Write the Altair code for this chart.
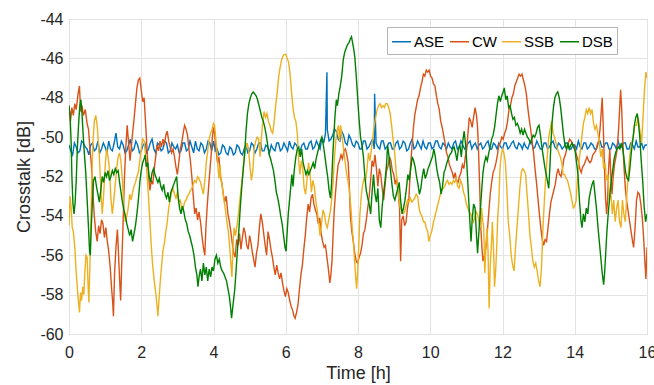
import altair as alt
import pandas as pd

# ---------------- data ----------------
series_names = ["ASE", "CW", "SSB", "DSB"]
series_colors = ["#0072BD", "#D95319", "#EDB120", "#008000"]
x_ticks = [0, 2, 4, 6, 8, 10, 12, 14, 16]
y_ticks = [-60, -58, -56, -54, -52, -50, -48, -46, -44]

# ASE read every 0.1 h (t = 0.0, 0.1, ... 16.0)
ase_values = [
    -50.4, -50.9, -50.5, -50.7, -50.3, -50.6, -50.4, -50.7, -50.2, -50.6,
    -50.5, -50.2, -50.7, -49.8, -50.6, -50.4, -50.7, -50.1, -50.6, -50.4,
    -50.7, -50.3, -50.6, -50.1, -50.8, -50.4, -50.6, -50.3, -50.7, -50.5,
    -50.4, -50.7, -50.3, -50.6, -50.5, -50.2, -50.7, -50.4, -50.6, -50.3,
    -50.2, -50.6, -50.8, -50.5, -50.9, -50.6, -50.8, -50.5, -50.9, -50.4,
    -50.7, -50.4, -50.6, -50.3, -50.7, -50.5, -50.4, -50.7, -50.3, -50.6,
    -50.5, -50.2, -50.6, -50.4, -50.7, -50.3, -50.6, -50.2, -50.5, -50.4,
    -50.0, -49.8, -50.2, -49.9, -49.7, -50.2, -49.9, -50.4, -50.1, -50.5,
    -50.3, -50.6, -50.2, -50.5, -50.1, -50.3, -50.6, -50.2, -50.5, -50.3,
    -50.6, -50.2, -50.5, -50.3, -50.6, -50.1, -50.5, -50.4, -50.2, -50.6,
    -50.3, -50.5, -50.2, -50.6, -50.4, -50.3, -50.6, -50.2, -50.5, -50.4,
    -50.5, -50.2, -50.4, -50.6, -50.3, -50.5, -50.2, -50.6, -50.4, -50.3,
    -50.6, -50.3, -50.5, -50.2, -50.6, -50.4, -50.3, -50.6, -50.2, -50.5,
    -50.4, -50.6, -50.3, -50.5, -50.2, -50.6, -50.4, -50.5, -50.3, -50.6,
    -50.4, -50.2, -50.6, -50.3, -50.5, -50.4, -50.6, -50.2, -50.5, -50.3,
    -50.6, -50.4, -50.2, -50.5, -50.3, -50.6, -50.4, -50.2, -50.5, -50.6,
    -50.4,
]
# ASE read at the half steps (t = 0.05, 0.15, ... 15.95)
ase_mid_values = [
    -50.7, -50.3, -50.8, -50.2, -50.5, -50.9, -50.3, -50.6, -50.8, -50.3,
    -50.8, -50.6, -50.3, -50.5, -50.2, -50.8, -50.4, -50.7, -50.2, -50.8,
    -50.4, -50.8, -50.3, -50.6, -50.3, -50.7, -50.2, -50.8, -50.3, -50.6,
    -50.8, -50.3, -50.7, -50.2, -50.8, -50.6, -50.3, -50.8, -50.2, -50.7,
    -50.7, -50.9, -50.4, -50.8, -50.5, -50.9, -50.4, -50.8, -50.6, -50.8,
    -50.3, -50.8, -50.3, -50.7, -50.4, -50.8, -50.6, -50.3, -50.7, -50.3,
    -50.7, -50.5, -50.3, -50.7, -50.4, -50.6, -50.3, -50.6, -50.2, -50.6,
    -50.3, -49.6, -50.1, -49.6, -50.1, -49.7, -50.3, -49.9, -50.4, -50.2,
    -50.6, -50.2, -50.6, -50.3, -50.6, -50.5, -50.2, -50.6, -50.3, -50.6,
    -50.3, -50.6, -50.2, -50.7, -50.3, -50.6, -50.2, -50.6, -50.5, -50.3,
    -50.6, -50.2, -50.5, -50.3, -50.6, -50.5, -50.3, -50.6, -50.2, -50.6,
    -50.3, -50.6, -50.3, -50.4, -50.6, -50.3, -50.6, -50.3, -50.6, -50.5,
    -50.3, -50.6, -50.3, -50.5, -50.3, -50.6, -50.5, -50.3, -50.6, -50.2,
    -50.6, -50.3, -50.6, -50.3, -50.5, -50.3, -50.6, -50.3, -50.6, -50.4,
    -50.6, -50.5, -50.3, -50.6, -50.3, -50.6, -50.3, -50.5, -50.3, -50.6,
    -50.3, -50.6, -50.5, -50.3, -50.6, -50.3, -50.6, -50.5, -50.3, -50.4,
]
ase_spike_t = [7.14, 8.46]
ase_spike_v = [-46.7, -47.8]

cw = [
    (0.00, -48.4), (0.04, -49.2), (0.08, -48.5), (0.12, -48.9), (0.16, -48.3), (0.20, -48.6), (0.25, -47.8),
    (0.29, -47.4), (0.32, -48.7), (0.36, -48.4), (0.40, -48.9), (0.45, -48.6), (0.50, -49.3), (0.54, -49.6),
    (0.58, -50.6), (0.62, -51.4), (0.66, -52.8), (0.70, -54.0), (0.74, -54.8), (0.78, -55.3), (0.82, -54.5),
    (0.86, -54.9), (0.90, -54.2), (0.94, -54.4), (0.98, -55.1), (1.02, -54.6), (1.06, -55.3), (1.10, -55.8),
    (1.14, -56.6), (1.18, -57.7), (1.21, -58.4), (1.23, -59.1), (1.26, -57.0), (1.30, -55.6), (1.34, -54.7),
    (1.37, -55.9), (1.40, -57.2), (1.43, -58.3), (1.46, -56.4), (1.49, -54.8), (1.53, -52.3), (1.57, -50.6),
    (1.61, -49.4), (1.65, -50.3), (1.69, -51.2), (1.72, -50.6), (1.76, -49.8), (1.80, -49.1), (1.84, -48.3),
    (1.88, -47.5), (1.92, -47.1), (1.96, -47.0), (2.00, -47.6), (2.04, -48.2), (2.08, -48.0), (2.12, -49.3),
    (2.16, -50.6), (2.20, -51.9), (2.24, -52.7), (2.28, -52.2), (2.32, -52.4), (2.36, -51.6), (2.40, -51.0),
    (2.44, -50.4), (2.48, -50.7), (2.52, -50.2), (2.56, -50.5), (2.60, -50.1), (2.64, -50.4), (2.68, -49.9),
    (2.72, -49.7), (2.76, -50.2), (2.80, -50.5), (2.84, -50.8), (2.88, -50.6), (2.92, -51.0), (2.96, -51.5),
    (3.00, -51.9), (3.04, -51.3), (3.08, -50.6), (3.12, -50.3), (3.16, -49.8), (3.20, -49.4), (3.24, -49.6),
    (3.28, -49.9), (3.32, -50.6), (3.36, -51.2), (3.40, -52.0), (3.44, -53.0), (3.48, -53.9), (3.52, -53.6),
    (3.56, -54.2), (3.60, -53.8), (3.64, -54.3), (3.68, -55.0), (3.72, -55.6), (3.76, -56.0), (3.79, -54.6),
    (3.83, -53.4), (3.87, -52.4), (3.90, -51.7), (3.94, -50.8), (3.97, -50.0), (4.00, -49.5), (4.03, -49.8),
    (4.07, -50.6), (4.11, -51.3), (4.15, -51.0), (4.19, -52.0), (4.23, -52.3), (4.27, -52.9), (4.31, -53.3),
    (4.35, -53.0), (4.40, -53.9), (4.44, -54.3), (4.48, -54.8), (4.52, -55.4), (4.56, -55.9), (4.60, -56.1),
    (4.64, -55.2), (4.68, -55.5), (4.72, -54.9), (4.76, -55.7), (4.80, -55.1), (4.84, -54.6), (4.88, -54.9),
    (4.92, -55.5), (4.96, -55.7), (5.00, -55.0), (5.04, -55.4), (5.08, -55.9), (5.12, -56.3), (5.15, -56.6),
    (5.19, -55.9), (5.23, -55.5), (5.27, -54.6), (5.31, -53.9), (5.35, -54.3), (5.39, -54.9), (5.43, -55.5),
    (5.47, -56.0), (5.51, -54.8), (5.55, -55.2), (5.59, -55.7), (5.63, -56.1), (5.67, -56.6), (5.71, -57.0),
    (5.75, -56.5), (5.79, -56.9), (5.83, -57.2), (5.87, -56.9), (5.91, -57.4), (5.95, -57.8), (5.99, -58.1),
    (6.03, -57.7), (6.07, -57.9), (6.11, -58.3), (6.15, -58.6), (6.19, -58.8), (6.23, -59.1), (6.26, -59.2),
    (6.30, -58.9), (6.34, -58.5), (6.38, -57.7), (6.42, -57.0), (6.46, -56.5), (6.50, -55.7), (6.54, -55.0),
    (6.58, -54.1), (6.62, -53.4), (6.66, -53.8), (6.70, -53.1), (6.74, -52.9), (6.78, -53.4), (6.82, -53.7),
    (6.86, -53.9), (6.90, -54.4), (6.94, -54.1), (6.98, -54.9), (7.02, -55.3), (7.06, -55.6), (7.10, -55.5),
    (7.14, -56.1), (7.18, -56.7), (7.22, -57.4), (7.25, -57.0), (7.28, -56.3), (7.31, -55.0), (7.34, -53.8),
    (7.37, -53.0), (7.41, -52.1), (7.45, -51.4), (7.49, -51.2), (7.53, -50.9), (7.57, -51.1), (7.61, -50.7),
    (7.65, -50.6), (7.69, -50.9), (7.73, -51.3), (7.76, -52.5), (7.79, -54.0), (7.83, -54.8), (7.87, -55.3),
    (7.91, -55.9), (7.95, -56.3), (7.99, -56.4), (8.03, -56.1), (8.07, -55.9), (8.11, -55.5), (8.15, -54.9),
    (8.19, -54.7), (8.23, -54.2), (8.27, -53.6), (8.31, -53.0), (8.35, -52.2), (8.39, -51.2), (8.43, -51.5),
    (8.47, -50.9), (8.51, -51.6), (8.55, -52.5), (8.59, -51.6), (8.63, -51.9), (8.67, -52.6), (8.71, -53.2),
    (8.75, -52.4), (8.79, -51.7), (8.83, -51.5), (8.87, -51.0), (8.91, -51.2), (8.95, -51.7), (8.99, -51.9),
    (9.03, -52.4), (9.07, -52.1), (9.11, -52.8), (9.15, -53.6), (9.18, -56.3), (9.21, -54.2), (9.25, -54.0),
    (9.29, -54.5), (9.33, -54.3), (9.37, -53.6), (9.41, -53.1), (9.45, -51.6), (9.49, -50.6), (9.53, -49.6),
    (9.57, -48.9), (9.61, -48.5), (9.65, -48.1), (9.69, -47.9), (9.73, -47.5), (9.77, -47.2), (9.81, -46.8),
    (9.85, -46.9), (9.89, -46.6), (9.93, -46.7), (9.97, -46.6), (10.01, -46.9), (10.05, -47.0), (10.09, -47.3),
    (10.13, -47.4), (10.17, -47.9), (10.21, -48.3), (10.25, -48.6), (10.29, -49.2), (10.33, -49.5), (10.37, -49.9),
    (10.41, -50.3), (10.45, -50.8), (10.49, -51.0), (10.53, -51.4), (10.57, -51.6), (10.61, -51.8), (10.65, -52.1),
    (10.69, -51.8), (10.73, -52.2), (10.77, -52.3), (10.81, -52.0), (10.85, -51.8), (10.89, -51.4), (10.93, -51.6),
    (10.97, -51.0), (11.01, -50.6), (11.04, -49.9), (11.08, -49.0), (11.12, -49.2), (11.16, -49.5), (11.20, -49.0),
    (11.24, -48.5), (11.28, -48.9), (11.31, -49.5), (11.34, -50.9), (11.37, -52.6), (11.40, -54.6), (11.43, -55.6),
    (11.46, -56.3), (11.50, -56.0), (11.54, -55.6), (11.58, -54.8), (11.62, -53.8), (11.66, -52.9), (11.70, -52.3),
    (11.74, -51.8), (11.78, -51.6), (11.82, -51.3), (11.86, -50.9), (11.90, -50.4), (11.94, -50.3), (11.98, -50.0),
    (12.02, -50.1), (12.06, -49.8), (12.10, -49.6), (12.14, -49.2), (12.18, -48.6), (12.22, -48.4), (12.26, -48.0),
    (12.30, -47.8), (12.34, -47.4), (12.38, -47.2), (12.42, -47.0), (12.46, -46.8), (12.50, -46.9), (12.54, -46.8),
    (12.58, -47.1), (12.62, -47.4), (12.66, -47.8), (12.70, -48.5), (12.74, -49.1), (12.78, -49.6), (12.82, -50.2),
    (12.86, -50.8), (12.90, -51.6), (12.94, -52.3), (12.98, -53.1), (13.02, -53.9), (13.06, -54.6), (13.10, -55.2),
    (13.14, -55.5), (13.18, -55.2), (13.22, -55.3), (13.26, -54.6), (13.30, -53.9), (13.34, -53.3), (13.38, -53.0),
    (13.42, -52.7), (13.46, -52.4), (13.50, -51.9), (13.54, -51.6), (13.58, -51.9), (13.62, -52.0), (13.66, -51.6),
    (13.70, -51.1), (13.74, -50.9), (13.78, -50.6), (13.82, -50.3), (13.86, -50.1), (13.90, -50.2), (13.94, -50.4),
    (13.98, -50.4), (14.02, -50.7), (14.06, -51.0), (14.10, -51.2), (14.14, -51.6), (14.18, -51.8), (14.22, -51.5),
    (14.26, -51.4), (14.30, -51.2), (14.34, -51.0), (14.38, -51.2), (14.42, -51.3), (14.46, -51.2), (14.50, -50.9),
    (14.54, -50.8), (14.58, -50.7), (14.62, -50.4), (14.66, -50.2), (14.70, -49.6), (14.73, -48.8), (14.76, -48.0),
    (14.79, -49.5), (14.82, -51.4), (14.85, -53.0), (14.88, -53.9), (14.91, -53.2), (14.94, -51.5), (14.97, -50.6),
    (15.00, -52.0), (15.03, -52.9), (15.06, -52.1), (15.10, -51.4), (15.14, -51.0), (15.18, -50.5), (15.22, -49.4),
    (15.25, -48.3), (15.27, -47.6), (15.30, -48.6), (15.33, -50.2), (15.36, -51.4), (15.40, -52.6), (15.44, -53.3),
    (15.48, -53.8), (15.52, -54.3), (15.56, -54.8), (15.60, -55.3), (15.63, -55.6), (15.67, -54.6), (15.71, -53.2),
    (15.75, -52.8), (15.79, -52.9), (15.83, -53.4), (15.87, -54.1), (15.91, -55.2), (15.94, -56.3), (15.97, -57.2),
    (16.00, -55.6),
]

ssb = [
    (0.00, -54.5), (0.03, -53.0), (0.06, -53.6), (0.09, -54.6), (0.12, -54.8), (0.16, -55.6), (0.20, -56.9),
    (0.24, -57.9), (0.27, -58.5), (0.29, -58.9), (0.32, -57.9), (0.35, -58.3), (0.38, -57.6), (0.41, -58.0),
    (0.44, -56.8), (0.47, -56.0), (0.50, -56.1), (0.53, -57.6), (0.55, -58.4), (0.58, -56.4), (0.61, -54.0),
    (0.63, -52.3), (0.66, -50.4), (0.70, -49.2), (0.74, -48.9), (0.78, -49.4), (0.81, -50.2), (0.84, -51.0),
    (0.88, -52.6), (0.92, -53.9), (0.96, -52.9), (1.00, -51.5), (1.04, -50.6), (1.08, -51.0), (1.12, -51.6),
    (1.16, -53.1), (1.20, -53.9), (1.24, -53.2), (1.28, -52.4), (1.32, -51.6), (1.36, -51.0), (1.40, -50.8),
    (1.44, -51.3), (1.48, -52.2), (1.52, -53.6), (1.56, -54.3), (1.60, -54.0), (1.64, -53.6), (1.68, -52.9),
    (1.72, -53.2), (1.76, -52.8), (1.80, -52.5), (1.84, -52.3), (1.88, -52.0), (1.92, -51.8), (1.96, -51.2),
    (2.00, -50.6), (2.04, -50.1), (2.08, -50.2), (2.12, -50.9), (2.16, -51.9), (2.20, -53.0), (2.24, -54.3),
    (2.28, -55.6), (2.32, -56.6), (2.36, -57.3), (2.40, -57.9), (2.44, -58.6), (2.46, -59.1), (2.49, -58.3),
    (2.52, -57.5), (2.56, -56.6), (2.60, -55.8), (2.64, -55.4), (2.68, -54.8), (2.72, -54.3), (2.76, -53.6),
    (2.80, -53.2), (2.84, -52.8), (2.88, -52.6), (2.92, -52.9), (2.96, -53.1), (3.00, -52.8), (3.04, -53.3),
    (3.08, -53.2), (3.12, -53.6), (3.16, -53.6), (3.20, -53.3), (3.24, -53.2), (3.28, -53.0), (3.32, -52.9),
    (3.36, -52.7), (3.40, -52.6), (3.44, -52.4), (3.48, -52.2), (3.52, -52.3), (3.56, -52.0), (3.60, -52.1),
    (3.64, -52.3), (3.68, -52.6), (3.72, -52.9), (3.76, -52.2), (3.80, -51.3), (3.84, -50.7), (3.88, -50.1),
    (3.92, -49.8), (3.96, -49.6), (4.00, -49.3), (4.03, -49.4), (4.06, -50.0), (4.09, -50.6), (4.12, -51.4),
    (4.15, -52.1), (4.18, -51.4), (4.21, -52.2), (4.25, -52.6), (4.29, -53.2), (4.33, -53.7), (4.37, -54.3),
    (4.41, -54.8), (4.45, -55.6), (4.48, -56.4), (4.51, -57.1), (4.54, -55.5), (4.57, -54.6), (4.61, -55.0),
    (4.65, -54.5), (4.69, -53.9), (4.73, -53.2), (4.77, -52.5), (4.81, -51.9), (4.85, -51.0), (4.89, -50.6),
    (4.93, -50.3), (4.97, -50.6), (5.01, -51.5), (5.05, -52.2), (5.09, -51.7), (5.13, -50.5), (5.17, -50.2),
    (5.21, -50.0), (5.25, -50.1), (5.29, -51.0), (5.32, -50.2), (5.36, -49.3), (5.40, -48.7), (5.44, -49.0),
    (5.48, -48.8), (5.52, -49.2), (5.56, -49.4), (5.60, -49.7), (5.64, -49.8), (5.68, -49.2), (5.72, -48.4),
    (5.76, -47.8), (5.80, -47.0), (5.84, -46.5), (5.88, -46.1), (5.92, -45.9), (5.96, -45.8), (6.00, -45.8),
    (6.04, -46.0), (6.08, -46.2), (6.12, -46.8), (6.16, -47.7), (6.20, -48.5), (6.24, -49.0), (6.28, -49.2),
    (6.32, -49.8), (6.35, -51.0), (6.39, -51.9), (6.43, -51.2), (6.47, -51.6), (6.51, -52.6), (6.55, -52.9),
    (6.59, -52.1), (6.63, -51.3), (6.67, -51.8), (6.71, -52.8), (6.75, -52.2), (6.79, -52.5), (6.83, -53.2),
    (6.87, -53.7), (6.91, -54.3), (6.95, -55.0), (6.99, -54.4), (7.03, -53.7), (7.07, -53.9), (7.11, -54.4),
    (7.15, -54.6), (7.19, -54.2), (7.23, -53.8), (7.27, -53.2), (7.31, -52.3), (7.35, -51.0), (7.39, -50.1),
    (7.43, -49.6), (7.46, -49.4), (7.49, -50.2), (7.52, -49.4), (7.56, -50.0), (7.60, -50.6), (7.64, -51.2),
    (7.68, -51.8), (7.72, -52.2), (7.76, -52.7), (7.80, -53.5), (7.84, -54.6), (7.88, -55.5), (7.91, -56.4),
    (7.94, -57.2), (7.96, -57.7), (7.99, -56.9), (8.02, -55.6), (8.05, -54.0), (8.09, -53.0), (8.13, -52.4),
    (8.17, -52.1), (8.21, -52.2), (8.25, -51.6), (8.29, -50.8), (8.33, -51.2), (8.37, -50.6), (8.41, -50.0),
    (8.45, -49.4), (8.49, -49.0), (8.53, -48.6), (8.57, -48.4), (8.61, -48.3), (8.65, -48.5), (8.69, -48.4),
    (8.73, -48.5), (8.77, -48.3), (8.81, -48.3), (8.85, -48.5), (8.89, -48.8), (8.93, -49.4), (8.97, -50.1),
    (9.01, -50.7), (9.05, -51.6), (9.09, -52.5), (9.13, -53.1), (9.17, -53.6), (9.21, -53.7), (9.25, -53.9),
    (9.29, -53.8), (9.33, -53.5), (9.37, -53.2), (9.41, -53.3), (9.45, -53.1), (9.49, -53.3), (9.53, -53.2),
    (9.57, -53.1), (9.61, -52.9), (9.65, -53.0), (9.69, -53.6), (9.73, -53.9), (9.77, -54.0), (9.81, -54.3),
    (9.85, -54.3), (9.89, -54.6), (9.93, -54.8), (9.96, -55.3), (10.00, -55.0), (10.04, -54.8), (10.08, -54.4),
    (10.12, -54.1), (10.16, -53.8), (10.20, -53.5), (10.24, -53.2), (10.28, -52.9), (10.32, -52.7), (10.36, -52.6),
    (10.40, -52.5), (10.44, -52.3), (10.48, -52.2), (10.52, -52.4), (10.56, -52.3), (10.60, -52.4), (10.64, -52.2),
    (10.68, -52.3), (10.72, -52.1), (10.76, -52.5), (10.80, -52.6), (10.84, -52.2), (10.88, -52.4), (10.92, -52.8),
    (10.96, -53.0), (11.00, -53.4), (11.04, -53.6), (11.08, -53.8), (11.12, -53.9), (11.16, -54.1), (11.20, -54.3),
    (11.24, -54.0), (11.28, -53.8), (11.32, -54.0), (11.36, -54.4), (11.39, -54.6), (11.42, -53.6), (11.45, -54.2),
    (11.48, -54.6), (11.51, -56.9), (11.54, -55.6), (11.57, -54.6), (11.60, -55.8), (11.63, -58.7), (11.66, -56.5),
    (11.69, -55.6), (11.72, -54.3), (11.75, -55.6), (11.78, -57.6), (11.81, -56.8), (11.84, -55.6), (11.87, -54.0),
    (11.90, -53.2), (11.93, -51.6), (11.96, -51.0), (12.00, -50.6), (12.04, -50.8), (12.08, -51.3), (12.12, -52.6),
    (12.16, -54.3), (12.20, -55.0), (12.24, -56.0), (12.28, -56.5), (12.32, -56.8), (12.36, -55.6), (12.40, -54.6),
    (12.44, -53.6), (12.48, -52.6), (12.52, -51.8), (12.56, -51.6), (12.60, -51.7), (12.64, -51.9), (12.68, -52.9),
    (12.72, -53.9), (12.76, -55.0), (12.80, -55.6), (12.84, -56.3), (12.88, -56.6), (12.92, -56.4), (12.96, -56.8),
    (13.00, -57.3), (13.04, -57.6), (13.08, -56.6), (13.12, -54.6), (13.16, -53.2), (13.20, -51.9), (13.24, -51.0),
    (13.28, -50.0), (13.32, -49.6), (13.36, -49.2), (13.40, -49.8), (13.44, -50.0), (13.48, -50.3), (13.52, -50.6),
    (13.56, -50.8), (13.60, -51.0), (13.64, -51.3), (13.68, -51.9), (13.72, -51.9), (13.76, -52.1), (13.80, -52.2),
    (13.84, -52.5), (13.88, -52.8), (13.92, -53.2), (13.96, -53.6), (14.00, -53.5), (14.04, -53.2), (14.08, -51.9),
    (14.12, -51.2), (14.16, -50.6), (14.20, -49.9), (14.24, -49.3), (14.28, -49.0), (14.32, -48.6), (14.36, -48.8),
    (14.40, -48.5), (14.44, -48.8), (14.48, -48.6), (14.52, -49.3), (14.56, -49.6), (14.60, -49.4), (14.64, -49.8),
    (14.68, -50.3), (14.72, -51.0), (14.76, -50.6), (14.80, -51.6), (14.84, -51.3), (14.88, -52.2), (14.92, -51.9),
    (14.96, -53.2), (15.00, -52.9), (15.04, -53.9), (15.08, -53.2), (15.12, -54.3), (15.16, -53.6), (15.20, -53.2),
    (15.24, -54.3), (15.28, -54.6), (15.32, -53.2), (15.36, -53.9), (15.40, -54.3), (15.44, -53.0), (15.48, -51.9),
    (15.52, -51.0), (15.57, -50.3), (15.62, -50.0), (15.66, -49.4), (15.71, -49.4), (15.75, -49.0), (15.80, -49.6),
    (15.85, -50.3), (15.89, -49.0), (15.93, -47.6), (15.97, -46.7), (16.00, -47.0),
]

dsb = [
    (0.00, -48.4), (0.03, -48.9), (0.06, -50.3), (0.08, -52.0), (0.11, -53.4), (0.14, -53.9), (0.17, -53.3),
    (0.20, -52.2), (0.23, -50.6), (0.27, -49.2), (0.30, -48.4), (0.33, -48.1), (0.36, -48.8), (0.39, -49.8),
    (0.42, -50.7), (0.46, -51.7), (0.50, -53.1), (0.54, -54.6), (0.57, -55.8), (0.59, -56.0), (0.62, -54.4),
    (0.65, -53.2), (0.68, -52.2), (0.72, -52.0), (0.76, -52.5), (0.80, -52.9), (0.84, -53.3), (0.88, -52.7),
    (0.92, -52.0), (0.96, -52.3), (1.00, -51.8), (1.04, -52.0), (1.08, -51.7), (1.12, -52.2), (1.16, -52.0),
    (1.20, -51.7), (1.24, -51.9), (1.28, -51.6), (1.32, -51.8), (1.36, -51.7), (1.40, -52.3), (1.44, -52.8),
    (1.48, -53.3), (1.52, -53.7), (1.56, -54.0), (1.60, -54.4), (1.64, -54.7), (1.68, -55.0), (1.72, -54.7),
    (1.76, -55.3), (1.80, -54.9), (1.84, -54.5), (1.88, -53.9), (1.92, -53.2), (1.96, -52.3), (2.00, -51.7),
    (2.04, -51.3), (2.08, -51.1), (2.11, -50.9), (2.14, -51.5), (2.18, -51.3), (2.22, -52.0), (2.26, -52.3),
    (2.30, -51.8), (2.34, -51.6), (2.38, -51.9), (2.42, -52.1), (2.46, -52.3), (2.50, -52.1), (2.54, -52.5),
    (2.58, -52.7), (2.62, -52.4), (2.66, -52.9), (2.70, -53.1), (2.74, -52.8), (2.78, -53.3), (2.82, -52.8),
    (2.86, -52.6), (2.90, -52.4), (2.94, -52.2), (2.98, -52.0), (3.02, -53.0), (3.06, -53.6), (3.10, -53.9),
    (3.14, -53.5), (3.18, -53.8), (3.22, -54.2), (3.26, -54.4), (3.30, -54.8), (3.34, -55.0), (3.38, -55.3),
    (3.42, -55.6), (3.46, -56.0), (3.50, -56.6), (3.54, -57.0), (3.57, -57.6), (3.60, -57.1), (3.64, -56.7),
    (3.68, -57.3), (3.72, -56.4), (3.76, -57.0), (3.80, -56.6), (3.84, -57.3), (3.88, -56.7), (3.92, -57.1),
    (3.96, -56.6), (4.00, -56.8), (4.04, -56.2), (4.08, -56.0), (4.12, -56.4), (4.16, -56.2), (4.20, -56.6),
    (4.24, -56.8), (4.28, -56.9), (4.32, -57.1), (4.36, -57.3), (4.40, -57.7), (4.44, -58.1), (4.47, -58.6),
    (4.50, -59.2), (4.53, -58.7), (4.56, -58.2), (4.59, -57.7), (4.62, -56.9), (4.66, -55.8), (4.70, -54.8),
    (4.74, -53.6), (4.78, -52.6), (4.82, -51.7), (4.86, -50.9), (4.90, -49.7), (4.94, -48.8), (4.98, -48.3),
    (5.02, -48.0), (5.06, -47.8), (5.10, -47.7), (5.14, -47.8), (5.18, -47.9), (5.22, -48.1), (5.26, -48.4),
    (5.30, -48.7), (5.34, -49.0), (5.38, -49.2), (5.42, -49.5), (5.46, -49.9), (5.50, -50.4), (5.54, -50.9),
    (5.58, -51.1), (5.62, -51.4), (5.66, -51.7), (5.70, -52.2), (5.74, -52.8), (5.78, -53.1), (5.82, -53.5),
    (5.86, -54.0), (5.90, -54.4), (5.94, -55.0), (5.98, -55.6), (6.01, -55.8), (6.04, -54.8), (6.07, -53.9),
    (6.10, -53.3), (6.14, -52.5), (6.17, -51.9), (6.20, -52.5), (6.24, -51.6), (6.28, -51.0), (6.32, -50.6),
    (6.36, -50.5), (6.40, -51.0), (6.44, -50.6), (6.48, -51.3), (6.52, -51.6), (6.56, -51.9), (6.60, -51.7),
    (6.64, -51.9), (6.68, -51.7), (6.72, -51.5), (6.76, -51.3), (6.80, -51.6), (6.84, -51.1), (6.88, -50.8),
    (6.92, -50.5), (6.96, -50.2), (7.00, -50.0), (7.04, -50.4), (7.08, -50.9), (7.12, -51.5), (7.16, -52.0),
    (7.20, -52.7), (7.24, -53.1), (7.27, -52.3), (7.30, -51.0), (7.33, -50.0), (7.36, -49.0), (7.40, -48.1),
    (7.43, -48.4), (7.47, -47.8), (7.51, -47.4), (7.55, -46.9), (7.59, -46.1), (7.63, -45.7), (7.67, -45.5),
    (7.71, -45.3), (7.75, -45.2), (7.79, -45.0), (7.82, -44.9), (7.85, -45.2), (7.88, -45.5), (7.91, -45.9),
    (7.94, -46.6), (7.97, -47.4), (8.00, -48.3), (8.03, -49.1), (8.07, -50.0), (8.11, -50.4), (8.15, -51.0),
    (8.19, -52.0), (8.23, -52.7), (8.27, -53.1), (8.31, -53.4), (8.35, -53.9), (8.39, -52.8), (8.43, -51.9),
    (8.47, -52.9), (8.51, -53.3), (8.55, -52.6), (8.59, -54.2), (8.63, -54.6), (8.67, -53.5), (8.71, -52.8),
    (8.75, -52.2), (8.79, -51.4), (8.82, -50.4), (8.86, -51.0), (8.90, -51.7), (8.94, -52.4), (8.98, -53.0),
    (9.02, -53.2), (9.06, -52.9), (9.10, -52.6), (9.14, -52.3), (9.18, -53.2), (9.22, -53.9), (9.26, -53.6),
    (9.30, -53.2), (9.34, -52.6), (9.38, -51.9), (9.42, -52.2), (9.46, -51.6), (9.50, -51.0), (9.54, -51.2),
    (9.58, -51.5), (9.62, -52.0), (9.66, -52.4), (9.70, -52.9), (9.74, -52.6), (9.78, -52.0), (9.82, -51.6),
    (9.86, -52.1), (9.90, -51.9), (9.94, -51.6), (9.98, -51.4), (10.02, -51.2), (10.06, -51.0), (10.10, -50.6),
    (10.14, -51.0), (10.18, -51.6), (10.22, -52.0), (10.26, -52.3), (10.30, -52.9), (10.34, -52.5), (10.38, -51.8),
    (10.42, -51.6), (10.46, -51.3), (10.50, -51.1), (10.54, -50.9), (10.58, -50.8), (10.62, -50.6), (10.66, -50.5),
    (10.70, -50.8), (10.74, -51.2), (10.78, -50.6), (10.82, -50.4), (10.86, -51.0), (10.90, -50.2), (10.94, -49.7),
    (10.98, -50.4), (11.02, -51.6), (11.06, -53.0), (11.10, -54.4), (11.13, -55.3), (11.16, -54.2), (11.20, -53.4),
    (11.24, -53.6), (11.28, -55.0), (11.31, -55.9), (11.34, -55.0), (11.38, -53.9), (11.42, -52.8), (11.46, -51.8),
    (11.50, -51.3), (11.54, -51.0), (11.58, -51.2), (11.62, -50.8), (11.66, -50.5), (11.70, -50.1), (11.74, -49.9),
    (11.78, -49.5), (11.82, -48.9), (11.86, -48.3), (11.90, -47.9), (11.94, -48.2), (11.98, -47.9), (12.02, -47.7),
    (12.05, -47.5), (12.09, -48.1), (12.13, -47.9), (12.17, -48.5), (12.21, -48.4), (12.25, -48.8), (12.29, -49.1),
    (12.33, -49.0), (12.37, -49.4), (12.41, -49.3), (12.45, -49.5), (12.49, -49.8), (12.53, -49.6), (12.57, -49.9),
    (12.61, -49.6), (12.65, -49.8), (12.69, -50.0), (12.73, -50.1), (12.77, -50.3), (12.81, -50.1), (12.85, -49.9),
    (12.89, -50.0), (12.93, -49.8), (12.97, -49.5), (13.01, -49.4), (13.05, -49.9), (13.09, -50.5), (13.13, -51.0),
    (13.17, -51.5), (13.21, -51.9), (13.25, -52.3), (13.28, -52.6), (13.31, -51.6), (13.34, -50.4), (13.37, -49.3),
    (13.41, -48.5), (13.45, -48.0), (13.49, -47.8), (13.53, -47.7), (13.57, -48.0), (13.61, -48.5), (13.65, -49.2),
    (13.69, -49.9), (13.73, -50.4), (13.77, -50.6), (13.81, -50.3), (13.85, -50.6), (13.89, -50.4), (13.93, -50.3),
    (13.97, -50.5), (14.01, -50.7), (14.05, -51.3), (14.09, -51.9), (14.13, -53.2), (14.17, -54.2), (14.20, -54.6),
    (14.24, -53.9), (14.28, -54.3), (14.32, -53.6), (14.36, -53.9), (14.40, -53.1), (14.44, -52.7), (14.48, -52.4),
    (14.52, -52.2), (14.56, -52.9), (14.60, -53.6), (14.64, -54.5), (14.68, -55.3), (14.72, -56.1), (14.76, -56.9),
    (14.80, -57.5), (14.83, -56.8), (14.86, -55.8), (14.89, -54.8), (14.93, -53.8), (14.97, -53.0), (15.01, -52.2),
    (15.05, -51.7), (15.09, -51.1), (15.13, -50.8), (15.17, -50.6), (15.21, -50.5), (15.25, -50.6), (15.29, -50.3),
    (15.33, -50.6), (15.37, -51.2), (15.41, -51.8), (15.45, -52.1), (15.49, -52.2), (15.53, -51.5), (15.57, -50.7),
    (15.61, -50.1), (15.65, -49.4), (15.69, -49.0), (15.73, -48.8), (15.76, -49.2), (15.80, -50.0), (15.84, -51.2),
    (15.88, -52.2), (15.92, -53.5), (15.96, -54.3), (16.00, -53.9),
]

# ---------------- table ----------------
rows = []
ase_pairs = [(round(i * 0.1, 2), v) for i, v in enumerate(ase_values)]
ase_pairs += [(round(0.05 + i * 0.1, 2), v) for i, v in enumerate(ase_mid_values)]
ase_pairs += list(zip(ase_spike_t, ase_spike_v))
ase_pairs.sort()
for name, pairs in zip(series_names, [ase_pairs, cw, ssb, dsb]):
    for k, (t, v) in enumerate(pairs):
        rows.append({"t": t, "v": v, "series": name, "order": k})
df = pd.DataFrame(rows)

FONT = "Liberation Sans"
TXT = "#262626"

label_expr = "datum.value < 0 ? '-' + format(abs(datum.value), 'd') : format(datum.value, 'd')"

chart = (
    alt.Chart(df)
    .mark_line(strokeWidth=1.4, clip=True)
    .encode(
        x=alt.X(
            "t:Q",
            scale=alt.Scale(domain=[0, 16], nice=False, zero=False),
            axis=alt.Axis(
                values=x_ticks,
                title="Time [h]",
                grid=True,
                gridColor="#e3e3e3",
                domain=False,
                ticks=False,
                labelFontSize=16,
                labelColor=TXT,
                labelFont=FONT,
                labelPadding=10,
                titleFontSize=18,
                titleFont=FONT,
                titleColor=TXT,
                titleFontWeight="normal",
                titlePadding=4,
                labelFlush=False,
            ),
        ),
        y=alt.Y(
            "v:Q",
            scale=alt.Scale(domain=[-60, -44], nice=False, zero=False),
            axis=alt.Axis(
                values=y_ticks,
                title="Crosstalk [dB]",
                grid=True,
                gridColor="#e3e3e3",
                domain=False,
                ticks=False,
                labelExpr=label_expr,
                labelFontSize=16,
                labelColor=TXT,
                labelFont=FONT,
                labelPadding=6,
                titleFontSize=18,
                titleFont=FONT,
                titleColor=TXT,
                titleFontWeight="normal",
                titlePadding=6,
                labelFlush=False,
            ),
        ),
        color=alt.Color(
            "series:N",
            scale=alt.Scale(domain=series_names, range=series_colors),
            sort=series_names,
            legend=alt.Legend(
                title=None,
                orient="none",
                legendX=318,
                legendY=8,
                direction="horizontal",
                symbolType="stroke",
                symbolSize=361,
                symbolStrokeWidth=1.5,
                labelFontSize=15,
                labelFont=FONT,
                labelColor="black",
                labelOffset=2,
                columnPadding=2,
                padding=4,
                fillColor="white",
                strokeColor="#b5b5b5",
            ),
        ),
        order=alt.Order("order:Q"),
        detail="series:N",
    )
    .properties(
        width=578,
        height=315,
        autosize=alt.AutoSizeParams(type="none"),
        padding={"left": 69, "top": 19, "right": 7, "bottom": 51},
        background="white",
    )
    .configure_view(stroke="#a8a8a8", strokeWidth=1)
)

chart.save("out.html", embed_options={"renderer": "svg", "actions": False})
